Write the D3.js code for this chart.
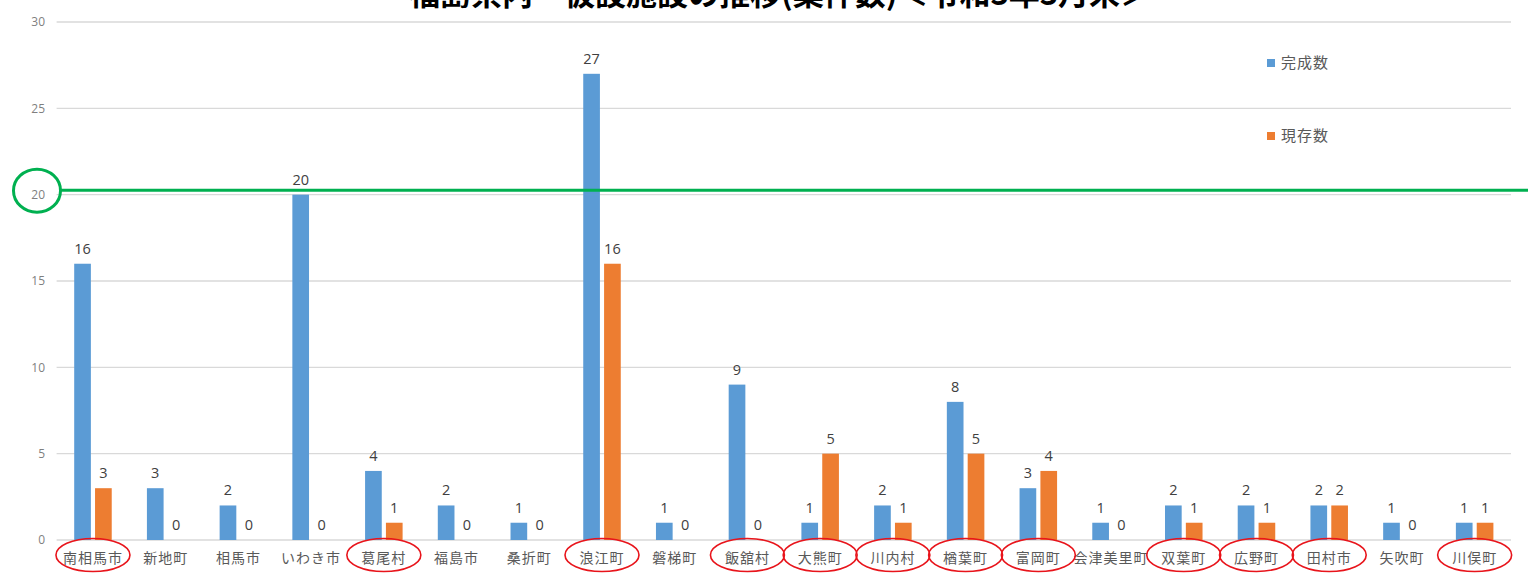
<!DOCTYPE html>
<html>
<head>
<meta charset="utf-8">
<script src="https://cdn.jsdelivr.net/npm/d3@7"></script>
<style>
  html, body { margin: 0; padding: 0; background: #fff; }
  svg { display: block; font-family: "Noto Sans CJK JP", "Noto Sans", sans-serif; }
</style>
</head>
<body>
<svg id="chart" width="1528" height="581"></svg>
<script>
// 市町村ごとの仮設施設（案件数）
const municipalities = ["南相馬市","新地町","相馬市","いわき市","葛尾村","福島市","桑折町","浪江町","磐梯町","飯舘村",
                        "大熊町","川内村","楢葉町","富岡町","会津美里町","双葉町","広野町","田村市","矢吹町","川俣町"];
const completed = [16, 3, 2, 20, 4, 2, 1, 27, 1, 9, 1, 2, 8, 3, 1, 2, 2, 2, 1, 1];
const existing  = [ 3, 0, 0,  0, 1, 0, 0, 16, 0, 0, 5, 1, 5, 4, 0, 1, 1, 2, 0, 1];
const seriesNames = ["完成数", "現存数"];
const yTicks = [0, 5, 10, 15, 20, 25, 30];
// 丸で囲む市町村
const circled = ["南相馬市","葛尾村","浪江町","飯舘村","大熊町","川内村","楢葉町","富岡町","双葉町","広野町","田村市","川俣町"];
// 基準線（20件）
const referenceValue = 20.25;
const highlightedTick = 20;

const titleText = "福島県内　仮設施設の推移(案件数)＜令和3年3月末＞";
const colors = ["#5B9BD5", "#ED7D31"];

const svg = d3.select("#chart");
const plot = { left: 56.6, right: 1511, top: 22, bottom: 540 };

const x0 = d3.scaleBand()
  .domain(municipalities)
  .range([plot.left, plot.right])
  .paddingInner(0.484)
  .paddingOuter(0.242);

const x1 = d3.scaleBand()
  .domain(seriesNames)
  .range([0, x0.bandwidth()])
  .paddingInner(0.2);

const y = d3.scaleLinear().domain([0, 30]).range([plot.bottom, plot.top]);

// 目盛線
svg.append("g")
  .selectAll("line")
  .data(yTicks)
  .join("line")
  .attr("x1", plot.left)
  .attr("x2", plot.right)
  .attr("y1", d => y(d))
  .attr("y2", d => y(d))
  .attr("stroke", "#D9D9D9")
  .attr("stroke-width", 1.3);

// Y軸ラベル
const yAxis = d3.axisLeft(y).tickValues(yTicks).tickSize(0).tickPadding(0);
const gy = svg.append("g").attr("transform", "translate(45,0)").call(yAxis);
gy.select(".domain").remove();
gy.selectAll("text")
  .attr("fill", "#7F7F7F")
  .style("font-size", "12px")
  .style("font-family", "'Open Sans', 'Noto Sans', sans-serif");

// 棒
const rows = municipalities.map((m, i) => ({ m, values: [completed[i], existing[i]] }));
const groups = svg.append("g")
  .selectAll("g")
  .data(rows)
  .join("g")
  .attr("transform", d => `translate(${x0(d.m)},0)`);

groups.selectAll("rect")
  .data(d => d.values.map((v, k) => ({ v, k })))
  .join("rect")
  .attr("x", d => x1(seriesNames[d.k]))
  .attr("width", x1.bandwidth())
  .attr("y", d => y(d.v))
  .attr("height", d => y(0) - y(d.v))
  .attr("fill", d => colors[d.k]);

groups.selectAll("text.value")
  .data(d => d.values.map((v, k) => ({ v, k })))
  .join("text")
  .attr("class", "value")
  .attr("x", d => x1(seriesNames[d.k]) + x1.bandwidth() / 2)
  .attr("y", d => y(d.v) - 10)
  .attr("text-anchor", "middle")
  .attr("fill", "#404040")
  .style("font-size", "14.5px")
  .style("font-family", "'Open Sans', 'Noto Sans', sans-serif")
  .text(d => d.v);

// X軸ラベル
const xAxis = d3.axisBottom(x0).tickSize(0).tickPadding(0);
const gx = svg.append("g").attr("transform", `translate(0,${plot.bottom})`).call(xAxis);
gx.select(".domain").remove();
gx.selectAll("text")
  .attr("dy", 0)
  .attr("y", 23)
  .attr("fill", "#595959")
  .style("font-size", "14px")
  .style("letter-spacing", "1px")
  .style("font-family", "'Noto Sans CJK JP', sans-serif");

// 赤丸
svg.append("g")
  .selectAll("ellipse")
  .data(circled)
  .join("ellipse")
  .attr("cx", d => x0(d) + x0.bandwidth() / 2)
  .attr("cy", 555)
  .attr("rx", 37)
  .attr("ry", 16.5)
  .attr("fill", "none")
  .attr("stroke", "#E8141B")
  .attr("stroke-width", 1.6);

// 凡例
const legend = svg.append("g")
  .selectAll("g")
  .data(seriesNames)
  .join("g")
  .attr("transform", (d, i) => `translate(1267,${63 + i * 73})`);
legend.append("rect")
  .attr("x", 0).attr("y", -4).attr("width", 8).attr("height", 8)
  .attr("fill", (d, i) => colors[i]);
legend.append("text")
  .attr("x", 14).attr("y", 0).attr("dy", "0.35em")
  .attr("fill", "#595959")
  .style("font-size", "15px")
  .style("letter-spacing", "1px")
  .text(d => d);

// 基準線と20の丸
svg.append("line")
  .attr("x1", 61).attr("x2", 1528)
  .attr("y1", y(referenceValue)).attr("y2", y(referenceValue))
  .attr("stroke", "#00B050")
  .attr("stroke-width", 3);
svg.append("ellipse")
  .attr("cx", 37).attr("cy", y(highlightedTick) - 4)
  .attr("rx", 23.5).attr("ry", 21.5)
  .attr("fill", "none")
  .attr("stroke", "#00B050")
  .attr("stroke-width", 3);

// タイトル（上端で切れている）
svg.append("text")
  .attr("x", 780).attr("y", 5)
  .attr("text-anchor", "middle")
  .attr("fill", "#000")
  .style("font-size", "31px")
  .style("font-weight", "bold")
  .text(titleText);
</script>
</body>
</html>
